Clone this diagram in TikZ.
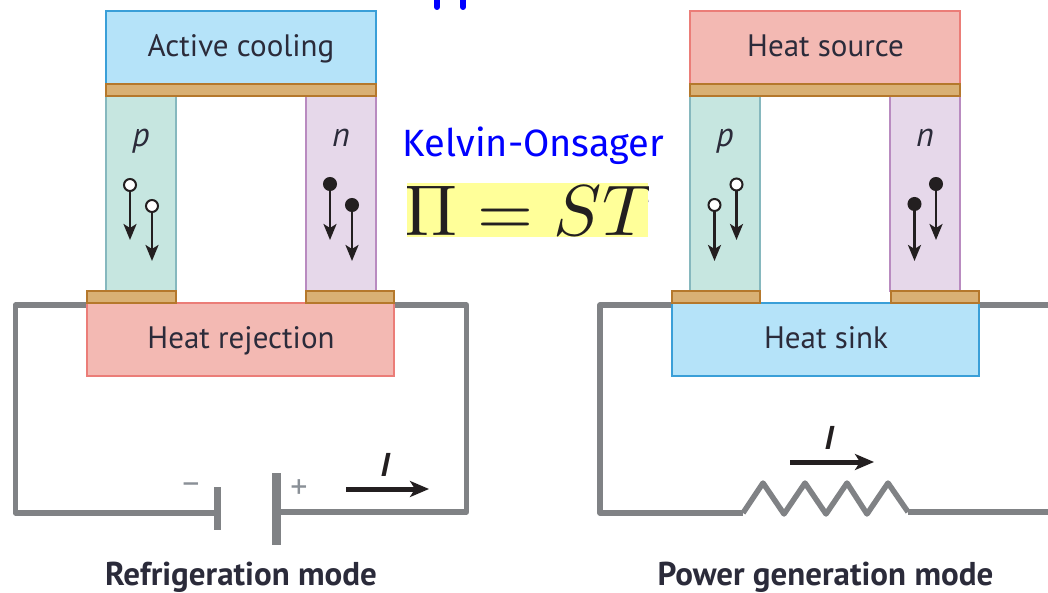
\documentclass[tikz,border=0pt]{standalone}
\usepackage{fontspec}
\setmainfont{PT Sans}
\newfontfamily\comicf{Fira Sans}
\usetikzlibrary{arrows.meta,backgrounds}
\definecolor{coolF}{HTML}{B5E3F9}\definecolor{coolD}{HTML}{3A9FD8}
\definecolor{hotF}{HTML}{F3B9B3}\definecolor{hotD}{HTML}{EB7D78}
\definecolor{plateF}{HTML}{D9B074}\definecolor{plateD}{HTML}{B5782C}
\definecolor{pF}{HTML}{C6E6E0}\definecolor{pD}{HTML}{86B8BE}
\definecolor{nF}{HTML}{E6D8EA}\definecolor{nD}{HTML}{B98BC0}
\definecolor{wireC}{HTML}{808285}\definecolor{inkC}{HTML}{231F20}
\definecolor{txtC}{HTML}{2B2B3A}\definecolor{signC}{HTML}{8A9097}
\definecolor{eqY}{HTML}{FFFF99}
\tikzset{
 box/.style={rectangle,inner sep=0pt,outer sep=0pt,line width=1.6pt},
 lab/.style={anchor=base,inner sep=0pt,text=txtC,font=\fontsize{31}{34}\selectfont},
 cool/.style={box,fill=coolF,draw=coolD},
 hot/.style={box,fill=hotF,draw=hotD},
 plate/.style={box,fill=plateF,draw=plateD,line width=1.8pt},
 pleg/.style={box,fill=pF,draw=pD},
 nleg/.style={box,fill=nF,draw=nD},
 carrier/.style={circle,inner sep=0pt,outer sep=0pt,minimum size=12pt,line width=2pt,draw=inkC},
 hole/.style={carrier,fill=white},
 elec/.style={carrier,fill=inkC},
 flow/.style={draw=inkC,line width=2.6pt,-{Stealth[length=16pt,width=13pt,inset=4pt]}},
 current/.style={draw=inkC,line width=5pt,-{Stealth[length=19pt,width=16pt,inset=5pt]}},
 wire/.style={draw=wireC,line width=5.5pt,line join=round},
 batplate/.style={rectangle,fill=wireC,inner sep=0pt,outer sep=0pt},
 leglabel/.style={anchor=base,inner sep=0pt,text=txtC,font=\fontsize{34}{36}\itshape\selectfont},
 curlabel/.style={anchor=base,inner sep=0pt,text=inkC,font=\fontsize{33}{36}\bfseries\itshape\selectfont},
 modelabel/.style={anchor=base,inner sep=0pt,text=txtC,font=\fontsize{33}{36}\bfseries\selectfont},
 sign/.style={text=signC,font=\fontsize{34}{36}\selectfont,inner sep=0pt},
}
\begin{document}
\begin{tikzpicture}[x=1pt,y=-1pt]
\useasboundingbox (0,0) rectangle (1048,593);
\clip (0,0) rectangle (1048,593);
% cut-off text at the top
\draw[blue,line width=6pt,line cap=round] (437,-6) -- (437,7);
\draw[blue,line width=6pt,line cap=round] (463,-6) -- (463,7);
% left module
\node[pleg,minimum width=70pt,minimum height=195pt] (lp) at (141,193.5) {};
\node[nleg,minimum width=70pt,minimum height=195pt] (ln) at (341,193.5) {};
\node[cool,minimum width=270pt,minimum height=73pt] (lcool) at (241,47.5) {};
\node[lab] (lcoolt) at (241,57) {Active cooling};
\node[plate,minimum width=270pt,minimum height=12pt] (ltop) at (241,90) {};
\node[hot,minimum width=307pt,minimum height=73pt] (lrej) at (240.5,339.5) {};
\node[lab] (lrejt) at (241,348) {Heat rejection};
\node[plate,minimum width=89pt,minimum height=12pt] (lpadp) at (131.5,297) {};
\node[plate,minimum width=88pt,minimum height=12pt] (lpadn) at (350,297) {};
\node[leglabel] (lplab) at (141,147) {p};
\node[leglabel] (lnlab) at (341,147) {n};
\node[hole] (lh1) at (130,185) {};
\node[hole] (lh2) at (152,206) {};
\node[elec] (le1) at (330,184) {};
\node[elec] (le2) at (352,205) {};
\coordinate (lh1e) at (130,240);\coordinate (lh2e) at (152,261);
\coordinate (le1e) at (330,240);\coordinate (le2e) at (352,261);
\draw[flow] (lh1) -- (lh1e);\draw[flow] (lh2) -- (lh2e);
\draw[flow] (le1) -- (le1e);\draw[flow] (le2) -- (le2e);
% left circuit
\node[batplate,minimum width=7pt,minimum height=43pt] (bneg) at (217,508) {};
\node[batplate,minimum width=9pt,minimum height=72pt] (bpos) at (276,509) {};
\node[sign] (mi) at (191,489) {−};
\node[sign] (pl) at (299,489) {+};
\coordinate (ca1) at (346,489);\coordinate (ca2) at (429,489);
\draw[current] (ca1) -- (ca2);
\node[curlabel] (li) at (385,476) {I};
\node[modelabel] (lmode) at (241,585) {Refrigeration mode};
\coordinate (w1) at (15.5,513);\coordinate (w2) at (15.5,305);\coordinate (w3) at (87,305);
\coordinate (w4) at (394,305);\coordinate (w5) at (466.5,305);\coordinate (w6) at (466.5,512);
\begin{scope}[on background layer]
\draw[wire] (bneg |- w1) -- (w1) -- (w2) -- (w3);
\draw[wire] (bpos |- w6) -- (w6) -- (w5) -- (w4);
\end{scope}
% middle
\node[anchor=base,text=blue,font=\comicf\fontsize{38}{40}\selectfont] (kel) at (533.5,157) {Kelvin-Onsager};
\begin{scope}
\clip (407,183) rectangle (648,237);
\node[rectangle,fill=eqY,minimum width=241pt,minimum height=54pt,inner sep=0pt] (ybox) at (527.5,210) {};
\node[scale=7.2,text=inkC,inner sep=0pt,anchor=base] (eq) at (529,236) {$\Pi=ST$};
\end{scope}
% right module
\node[pleg,minimum width=70pt,minimum height=195pt] (rp) at (725,193.5) {};
\node[nleg,minimum width=70pt,minimum height=195pt] (rn) at (925,193.5) {};
\node[hot,minimum width=270pt,minimum height=73pt] (rsrc) at (825,47.5) {};
\node[lab] (rsrct) at (825.5,57) {Heat source};
\node[plate,minimum width=270pt,minimum height=12pt] (rtop) at (825,90) {};
\node[cool,minimum width=307pt,minimum height=73pt] (rsink) at (825.5,339.5) {};
\node[lab] (rsinkt) at (826,348) {Heat sink};
\node[plate,minimum width=88pt,minimum height=12pt] (rpadp) at (716,297) {};
\node[plate,minimum width=88pt,minimum height=12pt] (rpadn) at (935,297) {};
\node[leglabel] (rplab) at (725,147) {p};
\node[leglabel] (rnlab) at (925,147) {n};
\node[hole] (rh1) at (714.5,205) {};
\node[hole] (rh2) at (736.5,184.5) {};
\node[elec] (re1) at (914.5,204) {};
\node[elec] (re2) at (936,184) {};
\coordinate (rh1e) at (714.5,261);\coordinate (rh2e) at (736.5,240);
\coordinate (re1e) at (914.5,261);\coordinate (re2e) at (936,240);
\draw[flow] (rh1) -- (rh1e);\draw[flow] (rh2) -- (rh2e);
\draw[flow] (re1) -- (re1e);\draw[flow] (re2) -- (re2e);
% right circuit
\coordinate (da1) at (790,462);\coordinate (da2) at (874,462);
\draw[current] (da1) -- (da2);
\node[curlabel] (ri) at (829,449) {I};
\node[modelabel] (rmode) at (825.5,585) {Power generation mode};
\coordinate (r0) at (743,513);\coordinate (r9) at (908,512);
\coordinate (x1) at (600,513);\coordinate (x2) at (600,305);\coordinate (x3) at (672,305);
\coordinate (x4) at (979,305);\coordinate (x5) at (1051,305);\coordinate (x6) at (1051,512);
\begin{scope}[on background layer]
\draw[wire] (r0) -- (763,483) -- (784,514) -- (805,483) -- (826,514) -- (847,483) -- (867,514) -- (888,483) -- (r9);
\draw[wire] (r0) -- (x1) -- (x2) -- (x3);
\draw[wire] (r9) -- (x6) -- (x5) -- (x4);
\end{scope}
\end{tikzpicture}
\end{document}
